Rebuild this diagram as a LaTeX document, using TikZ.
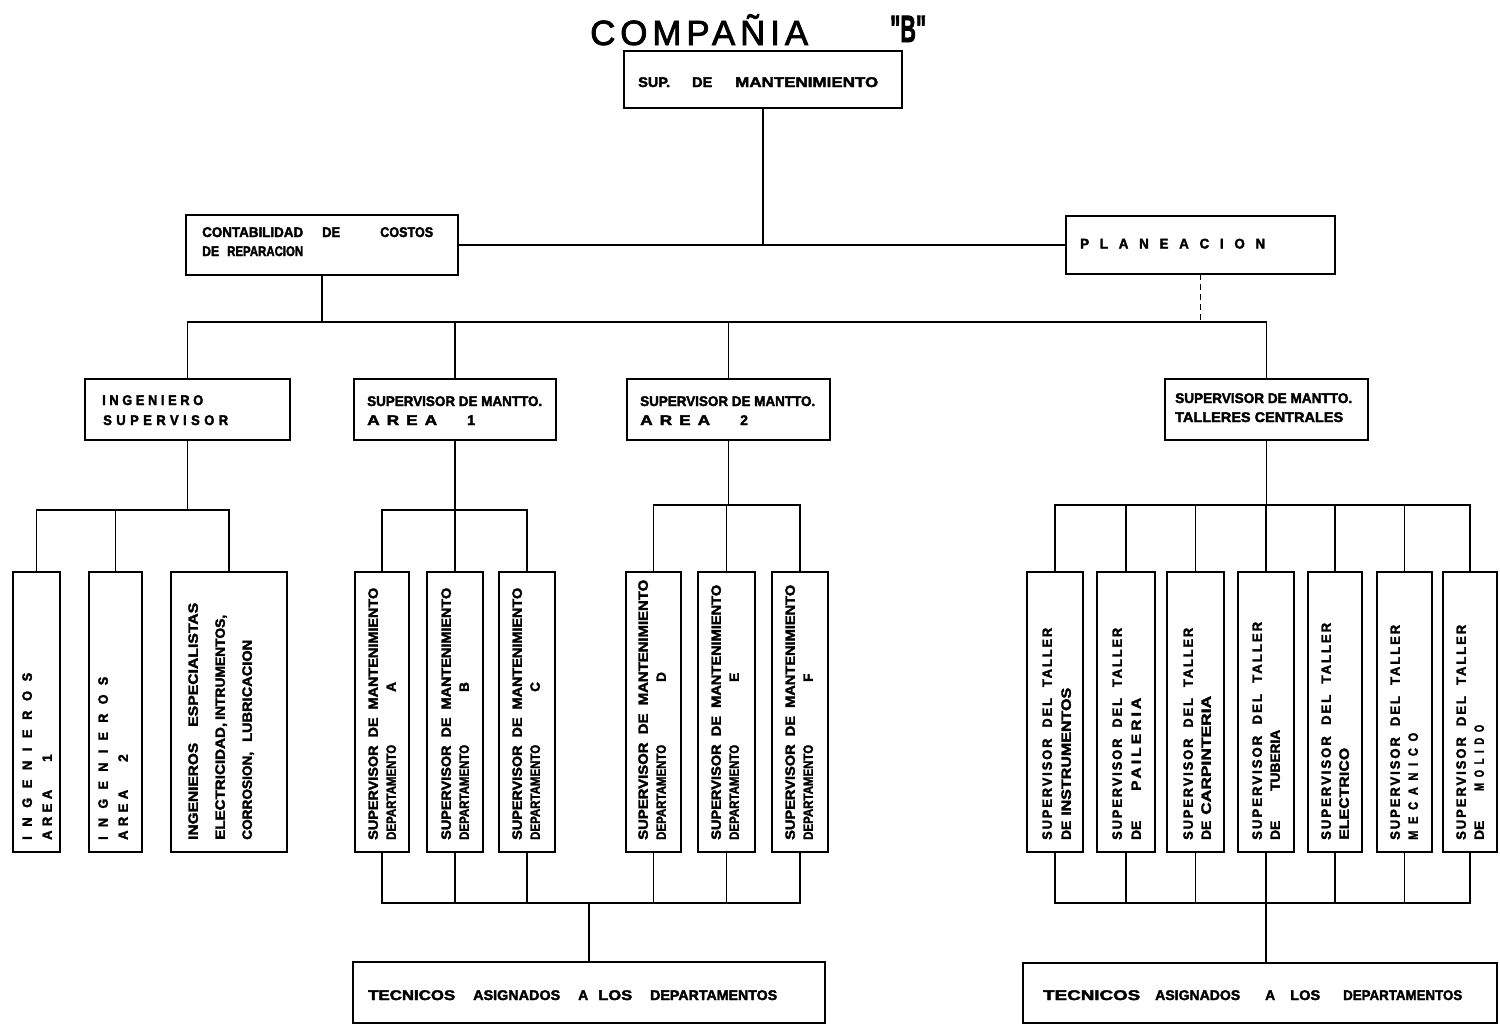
\documentclass[tikz,border=0pt]{standalone}
\usepackage{fontspec}
\usepackage{graphicx}
\setmainfont{Liberation Sans}
\newfontfamily\heavyf[FakeBold=2.4]{Liberation Sans}
\newfontfamily\titlefam[FakeBold=2.2]{Liberation Sans}
\newcommand\fitw[2]{\resizebox{#1pt}{\height}{#2}}
\newcommand\wseg[3]{\makebox[#1pt][l]{\resizebox{#2pt}{\height}{#3}}}
\newcommand\lsp[2]{{\addfontfeature{LetterSpace=#1}#2}}
\newcommand\hfnt{\heavyf\bfseries\fontsize{14}{16}\selectfont}
\newcommand\vfnt{\heavyf\bfseries\fontsize{13.5}{15}\selectfont}
\begin{document}
\begin{tikzpicture}[x=1pt,y=-1pt,
  box/.style={draw, line width=2.7pt, inner sep=0pt, outer sep=0pt},
  con/.style={line width=1.7pt},
  htxt/.style={inner sep=0pt, anchor=base west, font=\hfnt},
  vtxt/.style={inner sep=0pt, anchor=base west, rotate=90, font=\vfnt}]
\fill[white] (0,0) rectangle (1500,1028);
\useasboundingbox (0,0) rectangle (1500,1028);

% ---------- title
\node[inner sep=0pt, anchor=base west, font=\titlefam\fontsize{35}{37}\selectfont] (tit) at (590,45) {\fitw{218}{\lsp{14}{COMPAÑIA}}};
\node[inner sep=0pt, anchor=base west, font=\titlefam\bfseries\fontsize{38}{40}\selectfont] (titb) at (890,42) {\fitw{36}{"B"}};

% ---------- boxes
\node[box, minimum width=278pt, minimum height=57pt] (sup) at (763,79.5) {};
\node[box, minimum width=272pt, minimum height=60pt] (cont) at (322,245) {};
\node[box, minimum width=269pt, minimum height=58pt] (plan) at (1200.5,245) {};
\node[box, minimum width=205pt, minimum height=61pt] (ingsup) at (187.5,409.5) {};
\node[box, minimum width=202pt, minimum height=61pt] (ar1) at (455,409.5) {};
\node[box, minimum width=203pt, minimum height=61pt] (ar2) at (728.5,409.5) {};
\node[box, minimum width=203pt, minimum height=61pt] (tall) at (1266.5,409.5) {};

\node[box, minimum width=47pt, minimum height=280pt] (ia1) at (36.5,712) {};
\node[box, minimum width=53pt, minimum height=280pt] (ia2) at (115.5,712) {};
\node[box, minimum width=116pt, minimum height=280pt] (iesp) at (229,712) {};
\node[box, minimum width=54pt, minimum height=280pt] (dA) at (382,712) {};
\node[box, minimum width=56pt, minimum height=280pt] (dB) at (455,712) {};
\node[box, minimum width=56pt, minimum height=280pt] (dC) at (527,712) {};
\node[box, minimum width=55pt, minimum height=280pt] (dD) at (653.5,712) {};
\node[box, minimum width=57pt, minimum height=280pt] (dE) at (726.5,712) {};
\node[box, minimum width=56pt, minimum height=280pt] (dF) at (800,712) {};
\node[box, minimum width=56pt, minimum height=280pt] (tI) at (1055,712) {};
\node[box, minimum width=58pt, minimum height=280pt] (tP) at (1126,712) {};
\node[box, minimum width=57pt, minimum height=280pt] (tC) at (1195.5,712) {};
\node[box, minimum width=56pt, minimum height=280pt] (tT) at (1266,712) {};
\node[box, minimum width=54pt, minimum height=280pt] (tE) at (1335,712) {};
\node[box, minimum width=55pt, minimum height=280pt] (tM) at (1404.5,712) {};
\node[box, minimum width=54pt, minimum height=280pt] (tO) at (1470,712) {};

\node[box, minimum width=472pt, minimum height=61pt] (tec1) at (589,992.5) {};
\node[box, minimum width=474pt, minimum height=60pt] (tec2) at (1260,993) {};

% ---------- connectors
\coordinate (busA) at (0,322);
\coordinate (busB) at (0,510);
\coordinate (busC) at (0,505);
\coordinate (busD) at (0,903);
\draw[con] (sup.south) -- (sup.south |- cont.east);
\draw[con] (cont.east) -- (plan.west);
\draw[con] (cont.south) -- (cont.south |- busA);
\draw[con, dash pattern=on 6pt off 4pt] (plan.south) -- (plan.south |- busA);
\draw[con] (ingsup.north) -- (ingsup.north |- busA) -- (tall.north |- busA) -- (tall.north);
\draw[con] (ar1.north) -- (ar1.north |- busA);
\draw[con] (ar2.north) -- (ar2.north |- busA);

\draw[con] (ingsup.south) -- (ingsup.south |- busB);
\draw[con] (ia1.north) -- (ia1.north |- busB) -- (iesp.north |- busB) -- (iesp.north);
\draw[con] (ia2.north) -- (ia2.north |- busB);

\draw[con] (ar1.south) -- (ar1.south |- busB);
\draw[con] (dA.north) -- (dA.north |- busB) -- (dC.north |- busB) -- (dC.north);
\draw[con] (dB.north) -- (dB.north |- busB);

\draw[con] (ar2.south) -- (ar2.south |- busC);
\draw[con] (dD.north) -- (dD.north |- busC) -- (dF.north |- busC) -- (dF.north);
\draw[con] (dE.north) -- (dE.north |- busC);

\draw[con] (tall.south) -- (tall.south |- busC);
\draw[con] (tI.north) -- (tI.north |- busC) -- (tO.north |- busC) -- (tO.north);
\foreach \n in {tP,tC,tT,tE,tM} \draw[con] (\n.north) -- (\n.north |- busC);

\draw[con] (dA.south) -- (dA.south |- busD) -- (dF.south |- busD) -- (dF.south);
\foreach \n in {dB,dC,dD,dE} \draw[con] (\n.south) -- (\n.south |- busD);
\draw[con] (tec1.north) -- (tec1.north |- busD);

\draw[con] (tI.south) -- (tI.south |- busD) -- (tO.south |- busD) -- (tO.south);
\foreach \n in {tP,tC,tE,tM} \draw[con] (\n.south) -- (\n.south |- busD);
\draw[con] (tT.south) -- (tT.south |- tec2.north);

% ---------- horizontal texts
\node[htxt] (tsup) at (638,87) {\wseg{54}{32}{SUP.}\wseg{43}{20}{DE}\fitw{143}{MANTENIMIENTO}};
\node[htxt] (tcont1) at (202,237) {\wseg{120}{101}{CONTABILIDAD}\wseg{58}{18}{DE}\fitw{53}{COSTOS}};
\node[htxt] (tcont2) at (202,256) {\wseg{25}{17}{DE}\fitw{76}{REPARACION}};
\node[htxt] (tplan) at (1080,248.5) {\fitw{185}{\lsp{80}{PLANEACION}}};
\node[htxt] (tis1) at (102,405) {\fitw{101}{\lsp{28}{INGENIERO}}};
\node[htxt] (tis2) at (103,425) {\fitw{125}{\lsp{34}{SUPERVISOR}}};
\node[htxt] (ta11) at (367,406) {\fitw{175}{SUPERVISOR DE MANTTO.}};
\node[htxt] (ta12) at (367,425) {\wseg{100}{70}{\lsp{40}{AREA}}1};
\node[htxt] (ta21) at (640,406) {\fitw{175}{SUPERVISOR DE MANTTO.}};
\node[htxt] (ta22) at (640,425) {\wseg{100}{70}{\lsp{40}{AREA}}2};
\node[htxt] (ttc1) at (1175,403) {\fitw{177}{SUPERVISOR DE MANTTO.}};
\node[htxt] (ttc2) at (1175,422) {\fitw{168}{TALLERES CENTRALES}};
\node[htxt] (tt1) at (368,1000) {\wseg{105}{87}{TECNICOS}\wseg{105}{87}{ASIGNADOS}\wseg{20}{10}{A}\wseg{52}{34}{LOS}\fitw{127}{DEPARTAMENTOS}};
\node[htxt] (tt2) at (1043,1000) {\wseg{112}{97}{TECNICOS}\wseg{110}{85}{ASIGNADOS}\wseg{25}{10}{A}\wseg{53}{30}{LOS}\fitw{119}{DEPARTAMENTOS}};

% ---------- vertical texts
\node[vtxt] (v1a) at (31.8,840) {\fitw{167}{\lsp{75}{INGENIEROS}}};
\node[vtxt] (v1b) at (51.8,840) {\wseg{78}{50}{\lsp{35}{AREA}}1};
\node[vtxt] (v2a) at (107.8,840) {\fitw{163}{\lsp{75}{INGENIEROS}}};
\node[vtxt] (v2b) at (127.8,840) {\wseg{78}{50}{\lsp{35}{AREA}}2};
\node[vtxt] (v3a) at (197.8,840) {\wseg{113}{97}{INGENIEROS}\fitw{124}{ESPECIALISTAS}};
\node[vtxt] (v3b) at (224.8,840) {\wseg{120}{117}{ELECTRICIDAD,}\fitw{105}{INTRUMENTOS,}};
\node[vtxt] (v3c) at (251.8,840) {\wseg{98}{88}{CORROSION,}\fitw{102}{LUBRICACION}};

\node[vtxt] (vAa) at (377.8,840) {\fitw{252}{SUPERVISOR~~DE~~MANTENIMIENTO}};
\node[vtxt] (vAb) at (395.8,840) {\wseg{148}{95}{DEPARTAMENTO}A};
\node[vtxt] (vBa) at (450.8,840) {\fitw{252}{SUPERVISOR~~DE~~MANTENIMIENTO}};
\node[vtxt] (vBb) at (468.8,840) {\wseg{148}{95}{DEPARTAMENTO}B};
\node[vtxt] (vCa) at (521.8,840) {\fitw{252}{SUPERVISOR~~DE~~MANTENIMIENTO}};
\node[vtxt] (vCb) at (539.8,840) {\wseg{148}{95}{DEPARTAMENTO}C};
\node[vtxt] (vDa) at (647.8,840) {\fitw{260}{SUPERVISOR~~DE~~MANTENIMIENTO}};
\node[vtxt] (vDb) at (665.8,840) {\wseg{158}{95}{DEPARTAMENTO}D};
\node[vtxt] (vEa) at (720.8,840) {\fitw{255}{SUPERVISOR~~DE~~MANTENIMIENTO}};
\node[vtxt] (vEb) at (738.8,840) {\wseg{158}{95}{DEPARTAMENTO}E};
\node[vtxt] (vFa) at (794.8,840) {\fitw{255}{SUPERVISOR~~DE~~MANTENIMIENTO}};
\node[vtxt] (vFb) at (812.8,840) {\wseg{158}{95}{DEPARTAMENTO}F};

\node[vtxt] (vIa) at (1051.8,840) {\fitw{212}{\lsp{15}{SUPERVISOR~~DEL~~TALLER}}};
\node[vtxt] (vIb) at (1070.8,840) {\wseg{24}{19}{DE}\fitw{128}{INSTRUMENTOS}};
\node[vtxt] (vPa) at (1121.8,840) {\fitw{212}{\lsp{15}{SUPERVISOR~~DEL~~TALLER}}};
\node[vtxt] (vPb) at (1140.8,840) {\wseg{49}{19}{DE}\fitw{93}{\lsp{20}{PAILERIA}}};
\node[vtxt] (vCa2) at (1192.8,840) {\fitw{212}{\lsp{15}{SUPERVISOR~~DEL~~TALLER}}};
\node[vtxt] (vCb2) at (1210.8,840) {\wseg{25}{19}{DE}\fitw{119}{CARPINTERIA}};
\node[vtxt] (vTa) at (1261.8,840) {\fitw{218}{\lsp{15}{SUPERVISOR~~DEL~~TALLER}}};
\node[vtxt] (vTb) at (1279.8,840) {\wseg{49}{19}{DE}\fitw{61}{TUBERIA}};
\node[vtxt] (vEa2) at (1330.8,840) {\fitw{217}{\lsp{15}{SUPERVISOR~~DEL~~TALLER}}};
\node[vtxt] (vEb2) at (1348.8,840) {\fitw{92}{ELECTRICO}};
\node[vtxt] (vMa) at (1399.8,840) {\fitw{215}{\lsp{15}{SUPERVISOR~~DEL~~TALLER}}};
\node[vtxt] (vMb) at (1417.8,840) {\fitw{107}{\lsp{60}{MECANICO}}};
\node[vtxt] (vOa) at (1465.8,840) {\fitw{215}{\lsp{15}{SUPERVISOR~~DEL~~TALLER}}};
\node[vtxt] (vOb) at (1483.8,840) {\wseg{49}{19}{DE}\fitw{66}{\lsp{60}{MOLIDO}}};
\end{tikzpicture}
\end{document}
